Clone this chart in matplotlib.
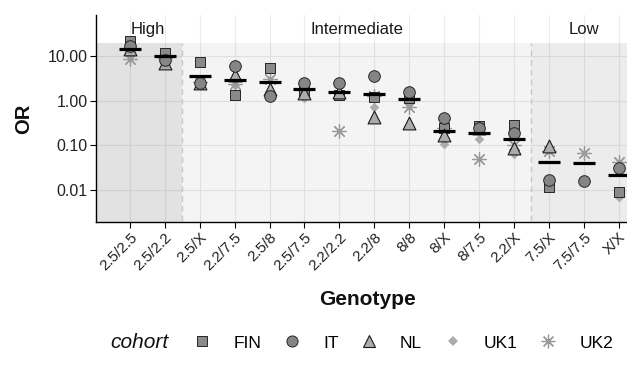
import matplotlib
matplotlib.use("Agg")
import matplotlib.pyplot as plt
from matplotlib.lines import Line2D
import numpy as np

plt.rcParams["font.family"] = ["Liberation Sans", "DejaVu Sans"]

nan = np.nan
genotypes = ["2.5/2.5", "2.5/2.2", "2.5/X", "2.2/7.5", "2.5/8", "2.5/7.5", "2.2/2.2",
             "2.2/8", "8/8", "8/X", "8/7.5", "2.2/X", "7.5/X", "7.5/7.5", "X/X"]

# odds ratios per cohort
fin = [22, 11.5, 7.2, 1.35, 5.3, 1.6, 1.35, 1.22, 1.15, 0.24, 0.27, 0.28, 0.012, nan, 0.009]
it = [16.5, 8.3, 2.5, 6.0, 1.27, 2.45, 2.45, 3.6, 1.6, 0.40, 0.25, 0.19, 0.017, 0.016, 0.031]
nl = [14.5, 7.0, 2.5, 3.7, 1.8, 1.5, 1.6, 0.43, 0.32, 0.17, 0.24, 0.087, 0.095, nan, nan]
uk1 = [10, 8.5, 2.2, 2.2, 1.5, 1.12, 1.3, 0.74, 0.85, 0.11, 0.14, 0.064, 0.011, nan, 0.007]
uk2 = [8.5, 9.0, 2.6, 2.4, 3.0, 1.7, 0.21, 1.3, 0.73, 0.25, 0.05, 0.10, 0.076, 0.066, 0.043]
pooled = [14, 10, 3.6, 2.9, 2.6, 1.8, 1.55, 1.4, 1.1, 0.21, 0.19, 0.14, 0.043, 0.041, 0.022]

groups = ["High", "Intermediate", "Low"]
group_edges = [1.5, 11.5]

x = np.arange(len(genotypes))
xlo, xhi = -0.97, 14.24

fig = plt.figure(figsize=(6.27, 3.70), dpi=100)
ax = fig.add_axes([96 / 627, 148 / 370, 531 / 627, 207 / 370])
ax.set_yscale("log")
ax.set_xlim(xlo, xhi)
ax.set_ylim(0.00193, 82.6)

# shaded regions
shade_top = 19.5
bounds = [xlo, group_edges[0], group_edges[1], xhi]
alphas = [0.115, 0.045, 0.075]
for i in range(3):
    ax.fill_between([bounds[i], bounds[i + 1]], 1e-4, shade_top, color="black",
                    alpha=alphas[i], lw=0, zorder=1)
for e in group_edges:
    ax.plot([e, e], [1e-4, shade_top], color="#c8c8c8", ls=(0, (4, 3)), lw=1, zorder=1.5)
label_x = [0.5, 6.5, 13]
for gx, g in zip(label_x, groups):
    ax.text(gx, 40, g, ha="center", va="center", fontsize=12, color="#1a1a1a")

ax.grid(True, which="major", color="#ebebeb", lw=0.8, zorder=0)
ax.set_axisbelow(True)

# cohort points
ax.scatter(x, uk1, marker="D", s=24, color="#acacac", lw=0, zorder=3)
ax.scatter(x, uk2, marker=(8, 2, 0), s=95, color="#9a9a9a", lw=0.9, zorder=3)
ax.scatter(x, fin, marker="s", s=58, facecolor="#8a8a8a", edgecolor="#262626", lw=0.7, zorder=3)
ax.scatter(x, nl, marker="^", s=85, facecolor="#acacac", edgecolor="#1a1a1a", lw=0.8, zorder=3)
ax.scatter(x, it, marker="o", s=70, facecolor="#858585", edgecolor="#262626", lw=0.7, zorder=3)
# pooled estimate
ax.scatter(x, pooled, marker="_", s=260, color="black", lw=2.3, zorder=4)

ax.set_xticks(x)
ax.set_xticklabels(genotypes, rotation=45, ha="right", va="top", rotation_mode="anchor",
                   fontsize=11, color="#222222")
ax.set_yticks([10, 1, 0.1, 0.01])
ax.set_yticklabels(["10.00", "1.00", "0.10", "0.01"], fontsize=11.5, color="#222222")
ax.minorticks_off()
ax.tick_params(axis="both", length=4, width=0.8, color="black", pad=2)

for s in ["top", "right"]:
    ax.spines[s].set_visible(False)
for s in ["left", "bottom"]:
    ax.spines[s].set_linewidth(1.0)

ax.set_xlabel("Genotype", fontsize=15, fontweight="bold", color="#111111")
ax.xaxis.set_label_coords(0.512, -(290 - 222) / 207)
ax.set_ylabel("OR", fontsize=14.5, fontweight="bold", color="#111111")
ax.yaxis.set_label_coords(-(96 - 33) / 531, 0.5)

# legend
handles = [
    Line2D([], [], ls="", marker="s", ms=7.4, mfc="#8a8a8a", mec="#262626", mew=0.7),
    Line2D([], [], ls="", marker="o", ms=8, mfc="#858585", mec="#262626", mew=0.7),
    Line2D([], [], ls="", marker="^", ms=9, mfc="#acacac", mec="#1a1a1a", mew=0.8),
    Line2D([], [], ls="", marker="D", ms=4.8, mfc="#acacac", mec="#acacac", mew=0),
    Line2D([], [], ls="", marker=(8, 2, 0), ms=9.8, mec="#9a9a9a", mew=0.9),
]
fig.text(110 / 627, 1 - 343 / 370, "cohort", style="italic", fontsize=15,
         va="center", ha="left", color="#111111")
fig.legend(handles, ["FIN", "IT", "NL", "UK1", "UK2"], loc="center left",
           bbox_to_anchor=(190 / 627, 1 - 343 / 370), ncol=5, frameon=False,
           fontsize=12.5, handlelength=1.4, handletextpad=1.1, columnspacing=1.05,
           borderpad=0, borderaxespad=0)

fig.savefig("out.png", dpi=100)
